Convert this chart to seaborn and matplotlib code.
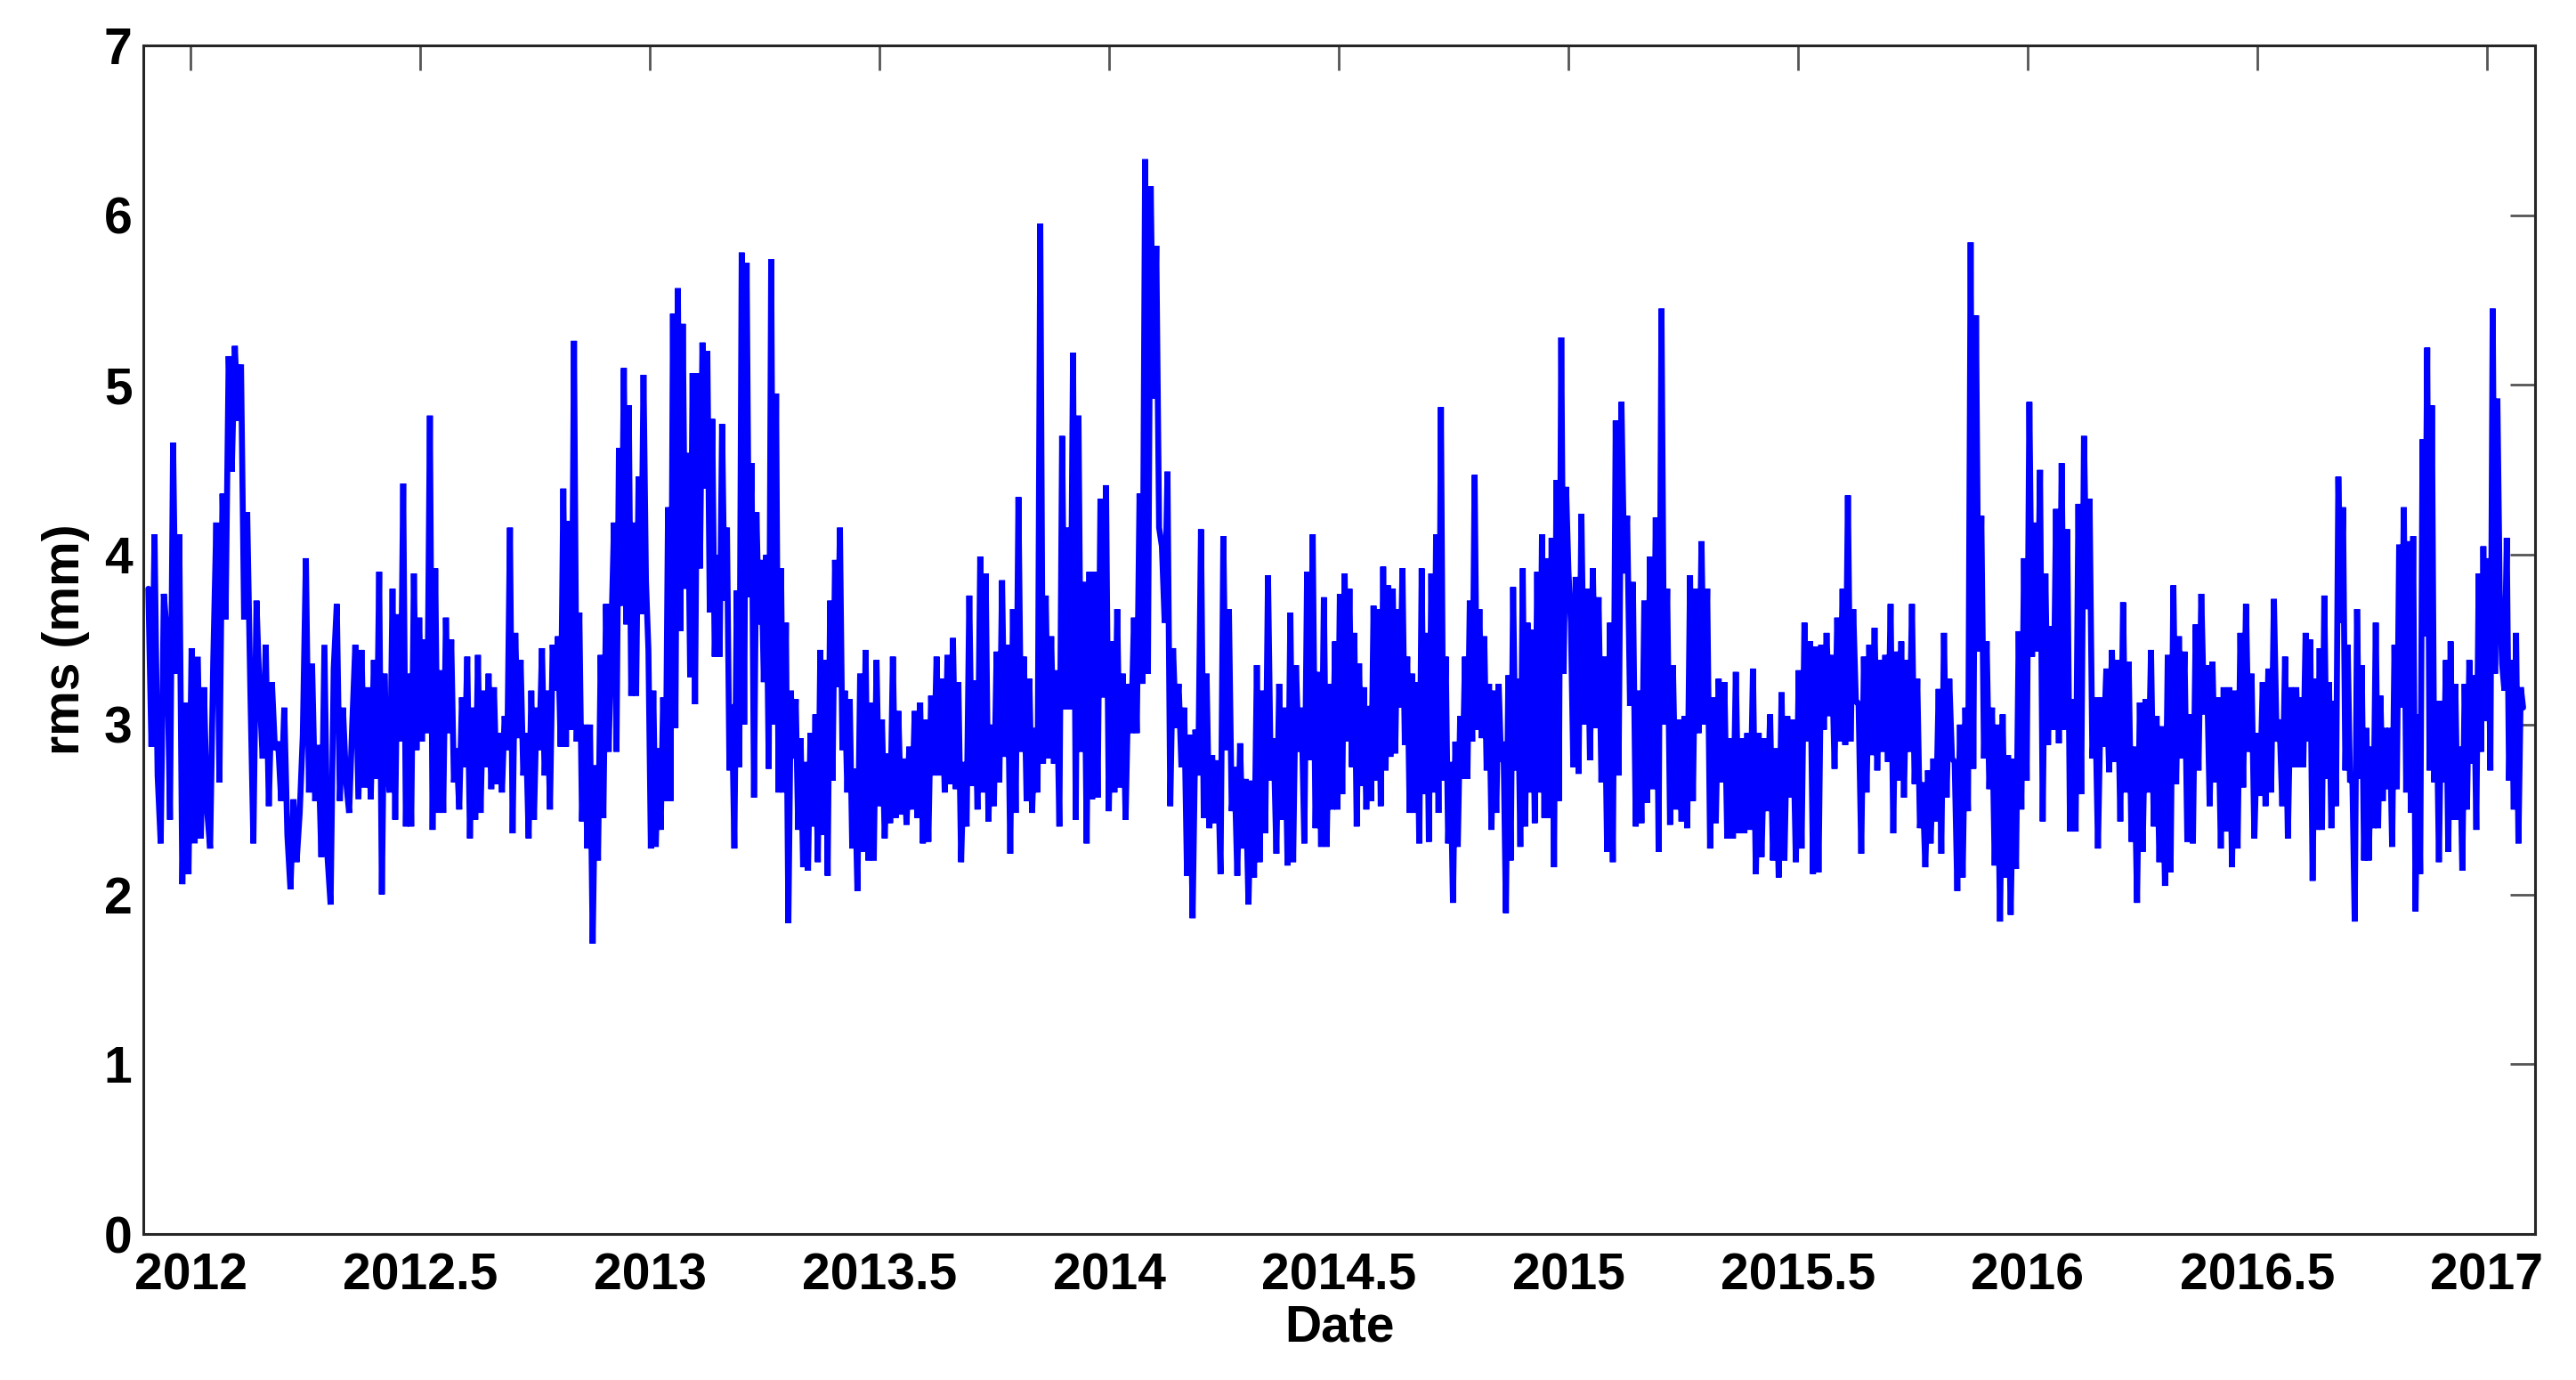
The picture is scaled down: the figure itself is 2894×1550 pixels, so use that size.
import numpy as np
import pandas as pd
import matplotlib
matplotlib.use("Agg")
import matplotlib.pyplot as plt
import seaborn as sns

# decimal-year edges of the stretches
seg_edges = [2011.908, 2012.399, 2012.922, 2013.446, 2013.969, 2014.492,
             2015.016, 2015.539, 2016.062, 2016.585, 2017.079]

# rms (mm), read stretch by stretch
rms_a = [3.8, 2.87, 4.12, 2.7, 2.3, 3.77, 3.54, 2.44, 4.66, 3.3, 4.12, 2.06, 3.13, 2.12,
         3.45, 2.3, 3.4, 2.33, 3.22, 2.5, 2.27, 3.37, 4.19, 2.66, 4.36, 3.62, 5.17, 4.49,
         5.23, 4.79, 5.12, 3.62, 4.25, 3.22, 2.3, 3.73, 3.19, 2.8, 3.47, 2.52, 3.25, 2.85,
         2.9, 2.55, 3.1, 2.35, 2.03, 2.56, 2.19, 2.48, 2.94, 3.98, 2.6, 3.36, 2.55, 2.88,
         2.22, 3.47, 2.22, 1.94, 3.33, 3.71, 2.55, 3.1, 2.67, 2.48, 3.0, 3.47, 2.56, 3.44,
         2.63, 3.22, 2.56]
rms_b = [3.38, 2.68, 3.9, 2.0, 3.3, 2.73, 2.6, 3.8, 2.44, 3.65, 2.9, 4.42, 2.4, 3.3, 2.4,
         3.89, 2.85, 3.63, 2.9, 3.5, 2.95, 4.82, 2.38, 3.92, 2.48, 3.32, 2.48, 3.63, 2.95,
         3.5, 2.66, 2.86, 2.5, 3.16, 2.75, 3.4, 2.33, 3.1, 2.44, 3.41, 2.48, 3.2, 2.75, 3.3,
         2.62, 3.22, 2.65, 2.95, 2.6, 3.05, 2.85, 4.16, 2.36, 3.54, 2.92, 3.38, 2.7, 2.95,
         2.33, 3.2, 2.44, 3.1, 2.85, 3.45, 2.7, 3.2, 2.5, 3.47, 3.2, 3.52, 2.87, 4.39, 2.87,
         4.2, 2.97, 5.26, 2.9, 3.66, 2.43, 3.0, 2.27, 3.0, 1.71, 2.76, 2.2, 3.41, 2.45, 3.71,
         2.84, 3.54]
rms_c = [4.19, 2.84, 4.63, 3.7, 5.1, 3.59, 4.88, 3.17, 4.19, 3.17, 4.46, 3.65, 5.06, 3.85,
         3.44, 2.27, 3.2, 2.28, 2.86, 2.38, 3.16, 2.55, 4.28, 2.55, 5.42, 2.98, 5.57, 3.55,
         5.36, 3.8, 4.6, 3.28, 5.07, 3.12, 5.07, 3.92, 5.25, 4.39, 5.2, 3.66, 4.8, 3.4, 4.0,
         3.4, 4.77, 3.73, 4.16, 2.73, 3.12, 2.27, 3.79, 2.75, 5.78, 3.0, 5.72, 3.75, 4.54,
         2.57, 4.25, 3.59, 3.97, 3.25, 4.0, 2.74, 5.74, 3.0, 4.95, 2.6, 3.92, 2.6, 3.6, 1.83,
         3.2, 2.8, 3.15, 2.38, 2.92, 2.16, 2.78, 2.14, 2.95, 2.4, 3.06, 2.19, 3.44, 2.35,
         3.38, 2.11, 3.73, 2.67, 3.97, 3.22, 4.16, 2.85, 3.2, 2.6, 3.15, 2.27]
rms_d = [2.74, 2.02, 3.3, 2.25, 3.44, 2.2, 3.13, 2.2, 3.38, 2.52, 3.03, 2.33, 2.83, 2.42,
         3.4, 2.45, 3.08, 2.47, 2.8, 2.41, 2.87, 2.5, 3.08, 2.45, 3.13, 2.3, 3.03, 2.31, 3.17,
         2.7, 3.4, 2.7, 3.27, 2.6, 3.41, 2.65, 3.51, 2.62, 3.25, 2.19, 2.78, 2.4, 3.76, 2.64,
         3.26, 2.5, 3.99, 2.6, 3.89, 2.43, 3.0, 2.52, 3.43, 2.66, 3.85, 2.81, 3.47, 2.24,
         3.68, 2.48, 4.34, 2.84, 3.4, 2.55, 3.27, 2.48, 2.98, 2.6, 5.95, 2.77, 3.76, 2.8,
         3.52, 2.77, 3.32, 2.4, 4.7, 3.09, 4.16, 3.09, 5.19, 2.44, 4.82, 2.84, 3.84, 2.3,
         3.9, 2.56]
rms_e = [3.9, 2.57, 4.33, 3.16, 4.41, 2.49, 3.49, 2.6, 3.68, 2.63, 3.3, 2.44, 3.24, 2.95,
         3.63, 2.95, 4.36, 3.24, 6.33, 3.3, 6.17, 4.92, 5.82, 4.16, 4.05, 3.6, 4.49, 2.52,
         3.45, 2.98, 3.24, 2.75, 3.1, 2.11, 2.94, 1.86, 2.97, 2.7, 4.15, 2.45, 3.3, 2.39,
         2.82, 2.42, 2.79, 2.12, 4.11, 2.85, 3.68, 2.49, 2.75, 2.11, 2.89, 2.27, 2.68, 1.94,
         2.67, 2.1, 3.35, 2.19, 3.2, 2.36, 3.88, 2.67, 2.92, 2.24, 3.24, 2.44, 3.1, 2.17,
         3.66, 2.19, 3.35, 2.84, 3.1, 2.3, 3.9, 2.79, 4.12, 2.39, 3.31, 2.28, 3.75, 2.28,
         3.24, 2.5]
rms_f = [3.49, 2.5, 3.77, 2.59, 3.89, 2.9, 3.8, 2.75, 3.54, 2.4, 3.36, 2.64, 3.22, 2.5,
         3.11, 2.55, 3.7, 2.67, 3.68, 2.52, 3.93, 2.73, 3.82, 2.81, 3.8, 2.83, 3.68, 3.1,
         3.92, 2.88, 3.4, 2.48, 3.3, 2.48, 3.25, 2.3, 3.92, 2.59, 3.54, 2.31, 3.89, 2.6,
         4.12, 2.48, 4.87, 2.67, 3.4, 2.3, 2.78, 1.95, 2.9, 2.28, 3.05, 2.68, 3.4, 2.68,
         3.73, 2.9, 4.47, 2.97, 3.68, 2.92, 3.52, 2.73, 3.24, 2.38, 3.2, 2.48, 3.24, 2.78,
         2.9, 1.89, 3.29, 2.2, 3.81, 2.73, 3.27, 2.28, 3.92, 2.4, 3.6, 2.6, 3.56, 2.42, 3.9,
         2.6, 4.12, 2.45, 3.98, 2.45, 4.1, 2.16, 4.44, 2.55, 5.28, 3.3, 4.4, 3.9, 3.6, 2.75]
rms_g = [3.87, 2.71, 4.24, 3.0, 3.8, 2.79, 3.92, 2.98, 3.75, 2.66, 3.4, 2.25, 3.6, 2.19,
         4.79, 2.7, 4.9, 3.89, 4.23, 3.11, 3.84, 2.4, 3.2, 2.42, 3.73, 2.54, 3.99, 2.62,
         4.22, 2.25, 5.45, 3.0, 3.8, 2.41, 3.35, 2.5, 3.03, 2.43, 3.05, 2.39, 3.88, 2.55,
         3.8, 2.95, 4.08, 3.0, 3.8, 2.27, 3.16, 2.42, 3.27, 2.66, 3.25, 2.33, 2.92, 2.33,
         3.31, 2.36, 2.92, 2.36, 2.95, 2.38, 3.33, 2.12, 2.95, 2.22, 2.92, 2.49, 3.06, 2.2,
         2.86, 2.1, 3.19, 2.2, 3.05, 2.57, 3.03, 2.19, 3.32, 2.27, 3.6, 2.9, 3.49, 2.12]
rms_h = [3.46, 2.13, 3.47, 2.97, 3.54, 3.05, 3.41, 2.74, 3.63, 2.9, 3.8, 2.88, 4.35, 2.9,
         3.68, 3.13, 3.13, 2.24, 3.4, 2.6, 3.47, 2.82, 3.57, 2.73, 3.38, 2.84, 3.41, 2.78,
         3.71, 2.36, 3.43, 2.67, 3.49, 2.57, 3.38, 2.84, 3.71, 2.65, 3.27, 2.39, 2.66, 2.16,
         2.73, 2.3, 2.8, 2.43, 3.21, 2.24, 3.54, 2.57, 3.27, 2.8, 2.78, 2.02, 3.0, 2.1, 3.1,
         2.49, 5.84, 2.74, 5.41, 3.43, 4.23, 2.8, 3.49, 2.62, 3.1, 2.17, 3.0, 1.84, 3.06,
         2.1, 2.82, 1.88, 2.8, 2.15, 3.55, 2.5, 3.98, 2.67, 4.9, 3.4, 4.19, 3.43, 4.5, 2.43,
         3.89, 2.88, 3.58, 2.97]
rms_i = [4.27, 2.89, 4.54, 2.97, 4.15, 2.37, 3.15, 2.37, 4.3, 2.59, 4.7, 3.68, 4.33, 2.8,
         3.16, 2.27, 3.16, 2.87, 3.33, 2.72, 3.44, 2.78, 3.38, 2.43, 3.72, 2.6, 3.37, 2.31,
         2.87, 1.95, 3.13, 2.25, 3.15, 2.6, 3.44, 2.4, 3.05, 2.19, 2.99, 2.05, 3.41, 2.13,
         3.82, 2.65, 3.52, 2.8, 3.43, 2.31, 3.06, 2.3, 3.59, 2.73, 3.77, 3.06, 3.35, 2.52,
         3.37, 2.66, 3.16, 2.27, 3.22, 2.37, 3.22, 2.16, 3.2, 2.27, 3.54, 2.63, 3.71, 2.84,
         3.3, 2.33, 2.95, 2.58, 3.25, 2.52, 3.33, 2.6, 3.74, 2.9, 3.03, 2.52, 3.4, 2.33,
         3.22, 2.75]
rms_j = [3.22, 2.75, 3.16, 2.75, 3.54, 2.9, 3.5, 2.08, 3.27, 2.38, 3.45, 2.38, 3.76, 2.68,
         3.25, 2.39, 3.14, 2.52, 4.46, 3.6, 4.28, 2.73, 3.47, 2.66, 2.68, 1.84, 3.68, 2.68,
         3.35, 2.2, 2.98, 2.2, 2.87, 2.39, 3.6, 2.39, 3.17, 2.55, 2.98, 2.62, 2.98, 2.28,
         3.47, 2.62, 4.06, 3.1, 4.28, 2.6, 4.08, 2.48, 4.11, 1.9, 3.06, 2.12, 4.68, 3.52,
         5.22, 2.73, 4.88, 2.66, 3.14, 2.19, 3.14, 2.66, 3.38, 2.25, 3.49, 2.44, 3.24, 2.44,
         2.87, 2.14, 3.24, 2.5, 3.38, 2.77, 3.29, 2.38, 3.89, 2.84, 4.05, 3.02, 3.98, 2.73,
         5.45, 3.3, 4.92, 3.77, 3.36, 3.2, 4.1, 2.67, 3.38, 2.5, 3.54, 2.3, 3.22, 3.1]

year_ticks = [2012, 2012.5, 2013, 2013.5, 2014, 2014.5, 2015, 2015.5, 2016, 2016.5, 2017]
year_labels = ["2012", "2012.5", "2013", "2013.5", "2014", "2014.5",
               "2015", "2015.5", "2016", "2016.5", "2017"]
rms_ticks = [0, 1, 2, 3, 4, 5, 6, 7]

segments = [rms_a, rms_b, rms_c, rms_d, rms_e, rms_f, rms_g, rms_h, rms_i, rms_j]
frames = []
for i, vals in enumerate(segments):
    last = i == len(segments) - 1
    t = np.linspace(seg_edges[i], seg_edges[i + 1], len(vals), endpoint=last)
    frames.append(pd.DataFrame({"Date": t, "rms": vals}))
df = pd.concat(frames, ignore_index=True)

sns.set_theme(style="white")
plt.rcParams["font.family"] = ["Liberation Sans", "DejaVu Sans"]
plt.rcParams["font.weight"] = "bold"
plt.rcParams["axes.labelweight"] = "bold"

fig = plt.figure(figsize=(28.94, 15.5), dpi=100)
ax = fig.add_axes([161 / 2894, 1 - 1386 / 1550, 2687 / 2894, 1335 / 1550])

sns.lineplot(data=df, x="Date", y="rms", ax=ax, color="#0000ff", linewidth=4.8,
             estimator=None, sort=False, solid_joinstyle="bevel")

ax.set_xlim(2011.897, 2017.105)
ax.set_ylim(0, 7)
ax.set_xticks(year_ticks)
ax.set_xticklabels(year_labels)
ax.set_yticks(rms_ticks)
ax.set_yticklabels([str(v) for v in rms_ticks])

for s in ax.spines.values():
    s.set_color("#262626")
    s.set_linewidth(2.2)
ax.tick_params(direction="in", length=20, width=2, color="#555555",
               top=True, right=True, labelsize=41, labelcolor="black")
ax.tick_params(axis="x", pad=15)
ax.tick_params(axis="y", pad=9)

ax.set_xlabel("Date", fontsize=41, color="black")
ax.set_ylabel("rms (mm)", fontsize=41, color="black")
ax.xaxis.set_label_coords(0.5, -0.0787)
ax.xaxis.label.set_va("center")
ax.yaxis.set_label_coords(-0.0324, 0.5)
ax.yaxis.label.set_va("center")

fig.savefig("out.png", dpi=100)
